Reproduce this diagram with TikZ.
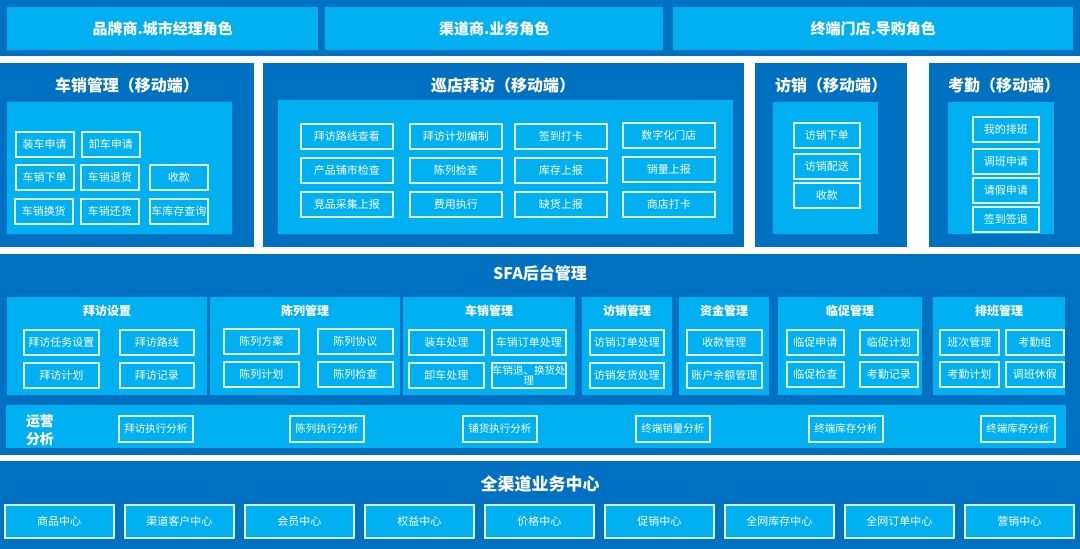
\documentclass[tikz,border=0pt]{standalone}
\usepackage{fontspec}
\usepackage{xcolor}
\usetikzlibrary{positioning}
\newfontfamily\cjk{Noto Sans CJK SC}
\definecolor{deep}{HTML}{0070C0}
\definecolor{sky}{HTML}{00B0F0}
\definecolor{rim}{HTML}{DDF3FC}

\begin{document}
\begin{tikzpicture}[x=1pt, y=-1pt, font=\cjk,
  panel/.style={fill=deep, anchor=north west, inner sep=0pt},
  zone/.style={fill=sky, anchor=north west, inner sep=0pt},
  dims/.style 2 args={minimum width=#1pt, minimum height=#2pt},
  item/.style={draw=rim, line width=1.5pt, fill=sky, text=white, anchor=north west,
               inner sep=0pt, align=center, font=\cjk\fontsize{11}{12}\selectfont},
  head/.style={text=white, font=\cjk\bfseries\fontsize{16}{18}\selectfont},
  sub/.style={text=white, font=\cjk\bfseries\fontsize{12}{14}\selectfont}]
  \useasboundingbox[fill=white] (0,0) rectangle (1080,549);

  % roles
  \node[panel, dims={1080}{56}] (rolesP) at (0,0) {};
  \node[zone, dims={311}{43}, head, font=\cjk\bfseries\fontsize{15}{17}\selectfont] (brand) at (7,7) {品牌商.城市经理角色};
  \node[zone, dims={338}{43}, head, font=\cjk\bfseries\fontsize{15}{17}\selectfont] (dealer) at (325,7) {渠道商.业务角色};
  \node[zone, dims={400}{43}, head, font=\cjk\bfseries\fontsize{15}{17}\selectfont] (store) at (673,7) {终端门店.导购角色};

  % mobile panels
  \node[panel, dims={254}{184}] (carP) at (0,63) {};
  \node[panel, dims={481}{184}] (visitP) at (263,63) {};
  \node[panel, dims={152}{184}] (orderP) at (755,63) {};
  \node[panel, dims={151}{184}] (dutyP) at (929,63) {};
  \node[head] (carT) at (127,85) {车销管理（移动端）};
  \node[head] (visitT) at (503,85) {巡店拜访（移动端）};
  \node[head] (orderT) at (831,85) {访销（移动端）};
  \node[head] (dutyT) at (1004,85) {考勤（移动端）};
  \node[zone, dims={225}{132}] (carZ) at (7,102) {};
  \node[zone, dims={455}{134}] (visitZ) at (278,100) {};
  \node[zone, dims={105}{132}] (orderZ) at (773,102) {};
  \node[zone, dims={106}{132}] (dutyZ) at (948,102) {};

  \foreach \t/\x/\y [count=\i] in {装车申请/15/131, 卸车申请/81/131, 车销下单/15/164,
      车销退货/80/164, 收款/149/164, 车销换货/14/198, 车销还货/80/198, 车库存查询/149/198}
    \node[item, dims={58}{25}] (car\i) at (\x,\y) {\t};
  \foreach \t/\x/\y [count=\i] in {拜访路线查看/300/123, 拜访计划编制/409/123, 签到打卡/514/123,
      数字化门店/622/122, 产品铺市检查/300/157, 陈列检查/409/157, 库存上报/514/157, 销量上报/622/156,
      竞品采集上报/300/191, 费用执行/409/191, 缺货上报/514/191, 商店打卡/622/191}
    \node[item, dims={92}{25}] (visit\i) at (\x,\y) {\t};
  \foreach \t/\y [count=\i] in {访销下单/122, 访销配送/153, 收款/182}
    \node[item, dims={66}{25}] (order\i) at (793,\y) {\t};
  \foreach \t/\y [count=\i] in {我的排班/116, 调班申请/148, 请假申请/177, 签到签退/206}
    \node[item, dims={66}{25}] (duty\i) at (972,\y) {\t};

  % back office
  \node[panel, dims={1080}{201}] (sfaP) at (0,254) {};
  \node[head] (sfaT) at (540,273) {SFA后台管理};
  \foreach \t/\x/\w [count=\i] in {拜访设置/7/200, 陈列管理/210/190, 车销管理/403/172,
      访销管理/582/90, 资金管理/679/90, 临促管理/778/144, 排班管理/933/132} {
    \node[zone, dims={\w}{98}] (mod\i) at (\x,297) {};
    \node[sub] (modT\i) at ({\x+\w/2},311) {\t};
  }
  \foreach \t/\x/\y/\w [count=\i] in {拜访任务设置/23/329/75, 拜访路线/119/329/74, 拜访计划/23/362/75,
      拜访记录/119/362/74, 陈列方案/223/328/75, 陈列协议/317/328/75, 陈列计划/223/361/75,
      陈列检查/317/361/75, 装车处理/408/329/75, 车销订单处理/491/329/74, 卸车处理/408/362/75,
      访销订单处理/589/329/74, 访销发货处理/589/362/74, 收款管理/686/329/75, 账户余额管理/686/362/75,
      临促申请/786/329/57, 临促计划/859/329/58, 临促检查/786/361/57, 考勤记录/859/361/58,
      班次管理/939/329/59, 考勤组/1005/329/58, 考勤计划/939/361/59, 调班休假/1005/361/58}
    \node[item, dims={\w}{25}] (task\i) at (\x,\y) {\t};
  \node[item, dims={74}{25}, font=\cjk\fontsize{10.5}{10}\selectfont] (swap) at (491,362) {车销退、换货处\\理};

  \node[zone, dims={1060}{43}] (ops) at (6,405) {};
  \node[sub, font=\cjk\bfseries\fontsize{14}{18}\selectfont, align=center] (opsT) at (40,430) {运营\\分析};
  \foreach \t/\x [count=\i] in {拜访执行分析/118, 陈列执行分析/289, 铺货执行分析/462,
      终端销量分析/635, 终端库存分析/808, 终端库存分析/980}
    \node[item, dims={74}{26}, font=\cjk\fontsize{10.5}{12}\selectfont] (ops\i) at (\x,415) {\t};

  % business centres
  \node[panel, dims={1080}{88}] (hubP) at (0,461) {};
  \node[head, font=\cjk\bfseries\fontsize{17}{19}\selectfont] (hubT) at (540,484) {全渠道业务中心};
  \foreach \t [count=\i from 0] in {商品中心, 渠道客户中心, 会员中心, 权益中心, 价格中心,
      促销中心, 全网库存中心, 全网订单中心, 营销中心}
    \node[item, dims={109}{33}] (hub\i) at ({4+120*\i},504) {\t};
\end{tikzpicture}
\end{document}
